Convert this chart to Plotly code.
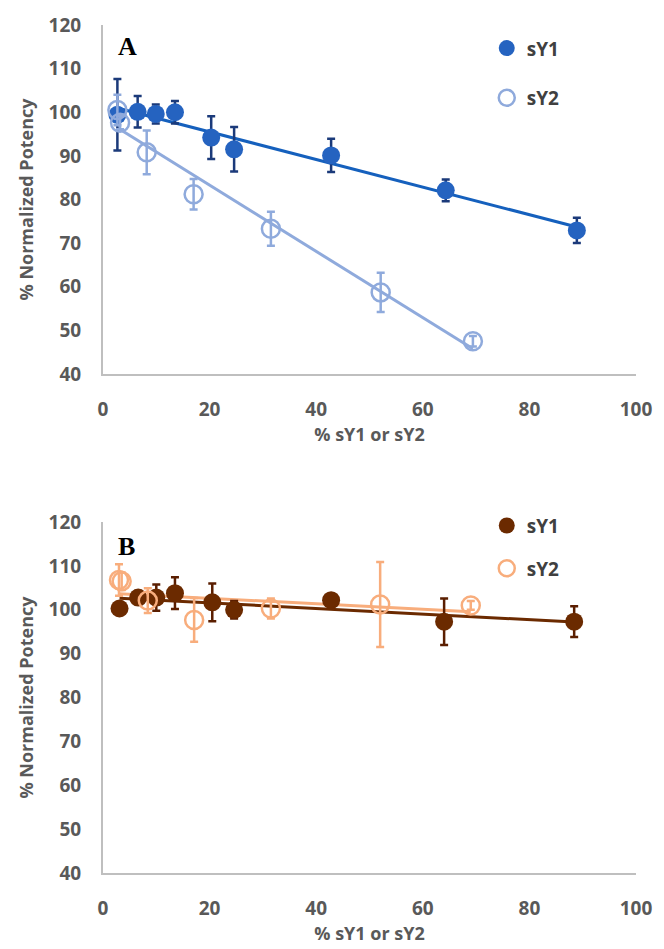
import numpy as np
import plotly.graph_objects as go

# ---------------- data ----------------
# Panel A
a_sy1_x = [2.7, 6.5, 9.9, 13.5, 20.3, 24.6, 42.8, 64.3, 88.9]
a_sy1_y = [99.4, 100.1, 99.6, 100.0, 94.2, 91.5, 90.1, 82.1, 72.9]
a_sy1_e = [8.2, 3.6, 2.2, 2.6, 4.9, 5.1, 3.8, 2.5, 2.9]

a_sy2_x = [2.7, 3.2, 8.2, 17.0, 31.5, 52.1, 69.4]
a_sy2_y = [100.5, 97.6, 90.8, 81.2, 73.3, 58.7, 47.5]
a_sy2_e = [3.5, 1.5, 5.0, 3.5, 3.9, 4.5, 1.2]

# Panel B
b_sy1_x = [3.1, 6.6, 10.0, 13.5, 20.5, 24.6, 42.8, 64.0, 88.4]
b_sy1_y = [100.3, 102.8, 102.8, 103.8, 101.7, 100.0, 102.2, 97.3, 97.3]
b_sy1_e = [1.0, 1.5, 3.0, 3.6, 4.3, 2.0, 1.0, 5.3, 3.5]

b_sy2_x = [3.0, 3.5, 8.4, 17.1, 31.5, 52.0, 69.0]
b_sy2_y = [106.8, 106.5, 102.1, 97.7, 100.3, 101.2, 101.0]
b_sy2_e = [3.6, 2.0, 2.8, 5.0, 2.3, 9.7, 1.0]

x_ticks = [0, 20, 40, 60, 80, 100]
y_ticks = [40, 50, 60, 70, 80, 90, 100, 110, 120]

# ---------------- style ----------------
BLUE = "#2563C0"
BLUE_ERR = "#1B3A7A"
BLUE_LINE = "#1560BD"
LBLUE = "#8FAADC"
BROWN = "#6B2A00"
BROWN_ERR = "#5A1E00"
ORANGE = "#F8AD7C"
AXIS = "#BFBFBF"
TXT = "#595959"
FONT = "Open Sans"


def trend(xs, ys):
    k, b = np.polyfit(xs, ys, 1)
    xx = np.array([min(xs), max(xs)])
    return xx, k * xx + b


fig = go.Figure()


def add_panel(xa, ya, legend, s1, s2, c1, c1e, c1l, c2):
    (x1, y1, e1), (x2, y2, e2) = s1, s2
    tx, ty = trend(x1, y1)
    fig.add_trace(go.Scatter(x=tx, y=ty, mode="lines", line=dict(color=c1l, width=3),
                             xaxis=xa, yaxis=ya, showlegend=False, hoverinfo="skip"))
    tx, ty = trend(x2, y2)
    fig.add_trace(go.Scatter(x=tx, y=ty, mode="lines", line=dict(color=c2, width=3),
                             xaxis=xa, yaxis=ya, showlegend=False, hoverinfo="skip"))
    fig.add_trace(go.Scatter(
        x=x1, y=y1, mode="markers", name="sY1", xaxis=xa, yaxis=ya, legend=legend,
        legendgroup=legend + "a",
        marker=dict(symbol="circle", size=18, color=c1, line=dict(width=0)),
        error_y=dict(type="data", array=e1, visible=True, color=c1e, thickness=2.5, width=4)))
    fig.add_trace(go.Scatter(
        x=x2, y=y2, mode="markers", name="sY2", xaxis=xa, yaxis=ya, legend=legend,
        legendgroup=legend + "b",
        marker=dict(symbol="circle-open", size=18, color=c2, line=dict(width=2.5, color=c2)),
        error_y=dict(type="data", array=e2, visible=True, color=c2, thickness=2.5, width=4)))


add_panel("x", "y", "legend",
          (a_sy1_x, a_sy1_y, a_sy1_e), (a_sy2_x, a_sy2_y, a_sy2_e),
          BLUE, BLUE_ERR, BLUE_LINE, LBLUE)
add_panel("x2", "y2", "legend2",
          (b_sy1_x, b_sy1_y, b_sy1_e), (b_sy2_x, b_sy2_y, b_sy2_e),
          BROWN, BROWN_ERR, BROWN, ORANGE)

tickfont = dict(family=FONT, size=19, color=TXT, weight="bold")
titlefont = dict(family=FONT, size=18, color=TXT, weight="bold")

xcommon = dict(range=[0, 100], tickvals=x_ticks, showgrid=False, zeroline=False,
               showline=True, linecolor=AXIS, linewidth=2, ticks="",
               tickfont=tickfont, ticklabelstandoff=17, ticklabeloverflow="allow",
               title=dict(text="% sY1 or sY2", font=titlefont, standoff=4))
ycommon = dict(range=[40, 120], tickvals=y_ticks, showgrid=False, zeroline=False,
               showline=True, linecolor=AXIS, linewidth=2, ticks="",
               tickfont=tickfont, ticklabelstandoff=16, ticklabeloverflow="allow",
               title=dict(text="% Normalized Potency", font=titlefont, standoff=10))

legfont = dict(family=FONT, size=19, color="#404040", weight="bold")

fig.update_layout(
    width=664, height=949,
    margin=dict(l=103, r=19, t=20, b=76),
    plot_bgcolor="white", paper_bgcolor="white",
    xaxis=dict(**xcommon, anchor="y", domain=[0, 1]),
    yaxis=dict(**ycommon, anchor="x", domain=[0.5885, 1.0]),
    xaxis2=dict(**xcommon, anchor="y2", domain=[0, 1]),
    yaxis2=dict(**ycommon, anchor="x2", domain=[0.0, 0.4138]),
    legend=dict(font=legfont, bgcolor="rgba(0,0,0,0)", tracegroupgap=22,
                xanchor="left", yanchor="top", x=0.72, y=0.995),
    legend2=dict(font=legfont, bgcolor="rgba(0,0,0,0)", tracegroupgap=15,
                 xanchor="left", yanchor="top", x=0.72, y=0.432),
    annotations=[
        dict(text="A", x=2.5, y=115, xref="x", yref="y", showarrow=False, xanchor="left",
             font=dict(family="Liberation Serif", size=26, color="black", weight="bold")),
        dict(text="B", x=2.5, y=114.5, xref="x2", yref="y2", showarrow=False, xanchor="left",
             font=dict(family="Liberation Serif", size=26, color="black", weight="bold")),
    ],
)

fig.write_html("out.html")
